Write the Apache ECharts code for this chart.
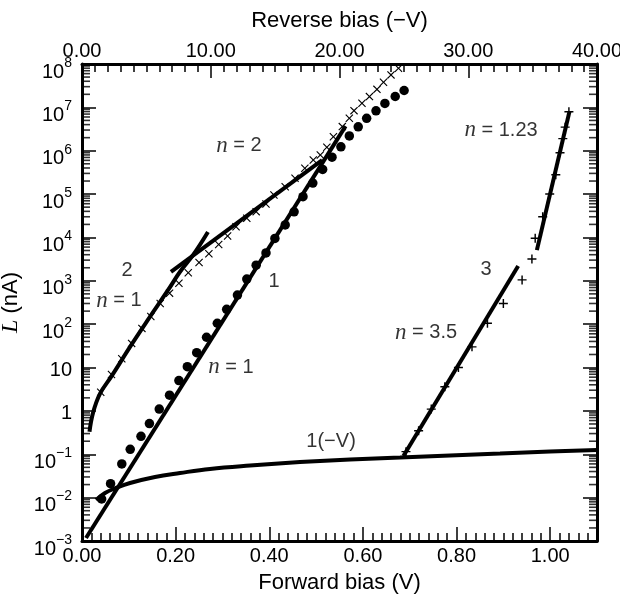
<!DOCTYPE html>
<html>
<head>
<meta charset="utf-8">
<script src="https://cdn.jsdelivr.net/npm/echarts@6/dist/echarts.min.js"></script>
<style>
html, body { margin: 0; padding: 0; background: #fff; }
#chart { width: 620px; height: 595px; }
</style>
</head>
<body>
<div id="chart"></div>
<script>
// sample 1: forward bias (dots)
const forwardV1 = [0.042, 0.061, 0.085, 0.103, 0.126, 0.144, 0.165, 0.187, 0.207, 0.225, 0.245,
    0.266, 0.289, 0.309, 0.332, 0.352, 0.372, 0.393, 0.412, 0.434, 0.453, 0.472, 0.493, 0.514,
    0.534, 0.553, 0.571, 0.590, 0.608, 0.628, 0.647, 0.669, 0.688];
const current1 = [9.3e-3, 2.1e-2, 6.0e-2, 1.3e-1, 2.6e-1, 5.1e-1, 1.1, 2.3, 5.0, 10.5, 22,
    50, 105, 220, 470, 1.1e3, 2.3e3, 4.4e3, 9.5e3, 1.95e4, 3.9e4, 8.7e4, 1.8e5, 3.7e5,
    7.1e5, 1.23e6, 2.2e6, 3.55e6, 5.6e6, 8.3e6, 1.23e7, 1.78e7, 2.45e7];

// sample 2: forward bias (crosses)
const forwardV2 = [0.040, 0.063, 0.085, 0.106, 0.128, 0.147, 0.167, 0.187, 0.207, 0.227, 0.250,
    0.271, 0.292, 0.311, 0.329, 0.352, 0.372, 0.393, 0.410, 0.434, 0.455, 0.476, 0.494, 0.509,
    0.523, 0.537, 0.556, 0.571, 0.581, 0.598, 0.614, 0.630, 0.644, 0.660, 0.676];
const current2 = [2.7, 6.9, 16, 36, 80, 150, 300, 520, 880, 1.54e3, 2.65e3,
    4.2e3, 6.9e3, 1.08e4, 1.77e4, 2.77e4, 3.94e4, 5.9e4, 9.5e4, 1.48e5, 2.32e5, 3.94e5, 6.1e5, 8.0e5,
    1.2e6, 2.1e6, 3.6e6, 5.6e6, 8.4e6, 1.24e7, 1.77e7, 2.6e7, 3.8e7, 5.6e7, 8.0e7];

// sample 3: forward bias (plus)
const forwardV3 = [0.692, 0.719, 0.746, 0.775, 0.804, 0.833, 0.866, 0.900, 0.940, 0.961,
    0.968, 0.984, 0.999, 1.012, 1.021, 1.027, 1.032, 1.040];
const current3 = [0.115, 0.35, 1.1, 3.6, 10, 30, 105, 300, 1.05e3, 3.2e3,
    9.6e3, 3.0e4, 1.0e5, 2.8e5, 9.0e5, 1.9e6, 3.5e6, 7.9e6];

// sample 1 under reverse bias, 1(-V)
const reverseV = [1.09, 1.79, 2.56, 3.73, 5.67, 7.61, 9.94, 13.05, 16.93, 20.82, 24.7, 28.58, 32.47, 36.35, 40];
const currentRev = [8.8e-3, 1.28e-2, 1.63e-2, 2.18e-2, 3.0e-2, 3.7e-2, 4.6e-2, 5.5e-2, 6.6e-2,
    7.6e-2, 8.4e-2, 9.4e-2, 0.104, 0.116, 0.126];

// fitted lines
const fit1V = [0.0085, 0.563];        // n = 1, sample 1
const fit1L = [1.17e-3, 3.7e6];
const fit2aV = [0.016, 0.0235, 0.0385, 0.0635, 0.1026, 0.145, 0.184, 0.209, 0.237, 0.269]; // n = 1, sample 2
const fit2aL = [0.33, 0.9, 2.5, 6.4, 30, 147, 615, 1.6e3, 3.9e3, 1.34e4];
const fit2bV = [0.190, 0.513];        // n = 2
const fit2bL = [1.6e3, 6.1e5];
const fit3aV = [0.6865, 0.9316];      // n = 3.5
const fit3aL = [0.091, 2.2e3];
const fit3bV = [0.9716, 1.0412];      // n = 1.23
const fit3bL = [5.1e3, 8.0e6];

// annotations (forward-bias V, current nA)
const noteText = ['{i|n} = 2', '2', '{i|n} = 1', '1', '{i|n} = 1', '1(−V)', '{i|n} = 1.23', '3', '{i|n} = 3.5'];
const noteV = [0.335, 0.096, 0.079, 0.410, 0.318, 0.532, 0.895, 0.863, 0.735];
const noteL = [1.3e6, 1.7e3, 343, 940, 10.3, 0.2, 3.0e6, 1.78e3, 63];

// axis ranges
const fwdMin = 0, fwdMax = 1.1, fwdStep = 0.2;
const revMin = 0, revMax = 40, revStep = 10;
const curMin = 1e-3, curMax = 1e8;

const SANS = 'Liberation Sans, Arial, Helvetica, sans-serif';
const SERIF = 'Liberation Serif, Times New Roman, serif';

function pairs(xs, ys) {
    return xs.map((x, i) => [x, ys[i]]);
}

// log minor ticks 2..9 in every decade
const minorTicks = [];
for (let e = -3; e < 8; e++) {
    for (let m = 2; m <= 9; m++) minorTicks.push(m * Math.pow(10, e));
}

const tickStyle = { color: '#000', width: 1.5 };

function fitLine(xs, ys, smooth) {
    return {
        type: 'line', data: pairs(xs, ys), showSymbol: false, smooth: smooth || false,
        lineStyle: { color: '#000', width: 4 }, z: 3, silent: true
    };
}

function yLabel(v) {
    const e = Math.round(Math.log10(v));
    if (e === 0) return '{p|1}';
    if (e === 1) return '{p|10}';
    return '{b|10}{s|' + (e < 0 ? '−' + (-e) : e) + '}';
}

const chart = echarts.init(document.getElementById('chart'), null, { renderer: 'canvas' });

const option = {
    animation: false,
    backgroundColor: '#fff',
    textStyle: { fontFamily: SANS, color: '#000' },
    grid: { left: 82, right: 23, top: 64, bottom: 54, containLabel: false, outerBoundsMode: 'none' },
    xAxis: [{
        type: 'value', position: 'bottom', min: fwdMin, max: fwdMax, interval: fwdStep,
        name: 'Forward bias (V)', nameLocation: 'middle', nameGap: 31,
        nameTextStyle: { fontSize: 22, color: '#000', fontFamily: SANS },
        axisLine: { show: true, onZero: false, lineStyle: { color: '#000', width: 3 } },
        axisTick: { inside: true, length: 14, lineStyle: tickStyle },
        minorTick: { show: true, splitNumber: 10, length: 8, lineStyle: tickStyle },
        axisLabel: { margin: 5, fontSize: 20, color: '#000', fontFamily: SANS, showMaxLabel: false,
            formatter: v => v.toFixed(2) },
        splitLine: { show: false }
    }, {
        type: 'value', position: 'top', min: revMin, max: revMax, interval: revStep,
        name: 'Reverse bias (−V)', nameLocation: 'middle', nameGap: 32,
        nameTextStyle: { fontSize: 22, color: '#000', fontFamily: SANS },
        axisLine: { show: true, onZero: false, lineStyle: { color: '#000', width: 3 } },
        axisTick: { inside: true, length: 14, lineStyle: tickStyle },
        minorTick: { show: true, splitNumber: 10, length: 8, lineStyle: tickStyle },
        axisLabel: { margin: 3, fontSize: 20, color: '#000', fontFamily: SANS,
            formatter: v => v.toFixed(2) },
        splitLine: { show: false }
    }],
    yAxis: [{
        type: 'log', logBase: 10, min: curMin, max: curMax, interval: 1, position: 'left',
        name: '{i|L} (nA)', nameLocation: 'middle', nameGap: 51, nameRotate: 90,
        nameTextStyle: { fontSize: 22, color: '#000', fontFamily: SANS,
            rich: { i: { fontFamily: SERIF, fontStyle: 'italic', fontSize: 24, color: '#000' } } },
        axisLine: { show: true, onZero: false, lineStyle: { color: '#000', width: 3 } },
        axisTick: { inside: true, length: 14, lineStyle: tickStyle },
        axisLabel: {
            margin: 10, color: '#000', formatter: yLabel, hideOverlap: false,
            rich: {
                p: { fontSize: 20, lineHeight: 20, padding: [5, 0, 0, 0], fontFamily: SANS, color: '#000' },
                b: { fontSize: 20, lineHeight: 20, padding: [16, 0, 0, 0], fontFamily: SANS, color: '#000' },
                s: { fontSize: 14, lineHeight: 14, padding: [10, 0, 12, 0], fontFamily: SANS, color: '#000' }
            }
        },
        splitLine: { show: false }
    }, {
        type: 'log', logBase: 10, min: curMin, max: curMax, interval: 1, position: 'right',
        axisLine: { show: true, onZero: false, lineStyle: { color: '#000', width: 3 } },
        axisTick: { inside: true, length: 14, lineStyle: tickStyle },
        axisLabel: { show: false },
        splitLine: { show: false }
    }],
    series: [
        // log minor ticks as short marks on the left and right frame
        {
            type: 'scatter', data: minorTicks.map(v => [fwdMin, v]), clip: false,
            symbol: 'rect', symbolSize: [8, 1.6], symbolOffset: [4, 0], itemStyle: { color: '#000' }
        },
        {
            type: 'scatter', data: minorTicks.map(v => [fwdMax, v]), clip: false,
            symbol: 'rect', symbolSize: [8, 1.6], symbolOffset: [-4, 0], itemStyle: { color: '#000' }
        },
        fitLine(fit1V, fit1L),
        fitLine(fit2aV, fit2aL, 0.4),
        fitLine(fit2bV, fit2bL),
        fitLine(fit3aV, fit3aL),
        fitLine(fit3bV, fit3bL),
        {
            type: 'line', xAxisIndex: 1, data: pairs(reverseV, currentRev), showSymbol: false, smooth: 0.4,
            lineStyle: { color: '#000', width: 4 }, z: 3, silent: true
        },
        {
            type: 'scatter', data: pairs(forwardV1, current1), symbol: 'circle', symbolSize: 9.5,
            itemStyle: { color: '#000', opacity: 1 }, z: 4, silent: true
        },
        {
            type: 'scatter', data: pairs(forwardV2, current2),
            symbol: 'path://M1,0L5,4L9,0L10,1L6,5L10,9L9,10L5,6L1,10L0,9L4,5L0,1Z', symbolSize: 8,
            itemStyle: { color: '#000', opacity: 1 }, z: 4, silent: true
        },
        {
            type: 'scatter', data: pairs(forwardV3, current3),
            symbol: 'path://M4.2,0H5.8V4.2H10V5.8H5.8V10H4.2V5.8H0V4.2H4.2Z', symbolSize: 9,
            itemStyle: { color: '#000', opacity: 1 }, z: 4, silent: true
        },
        {
            type: 'scatter', silent: true, z: 7, symbolSize: 0,
            itemStyle: { color: 'rgba(0,0,0,0)' },
            data: noteText.map((t, i) => ({ value: [noteV[i], noteL[i]], name: t })),
            label: {
                show: true, position: 'inside', align: 'center', verticalAlign: 'middle',
                formatter: p => p.name, fontSize: 20, color: '#000', fontFamily: SANS,
                rich: { i: { fontFamily: SERIF, fontStyle: 'italic', fontSize: 23, color: '#000' } }
            }
        }
    ]
};

chart.setOption(option);
</script>
</body>
</html>
